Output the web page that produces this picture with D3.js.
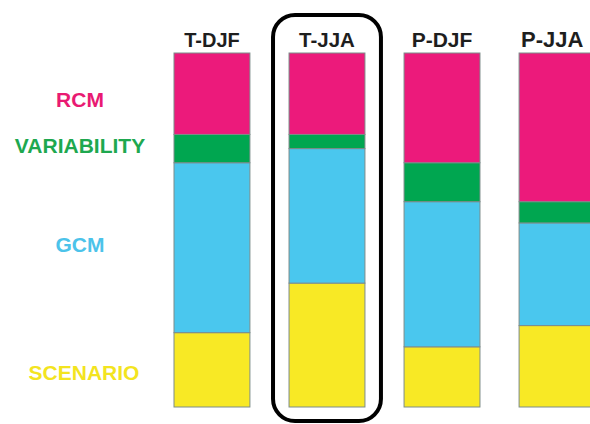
<!DOCTYPE html>
<html>
<head>
<meta charset="utf-8">
<script src="https://cdn.jsdelivr.net/npm/d3@7"></script>
<style>
  html, body { margin: 0; padding: 0; background: #fff; overflow: hidden; }
  svg { display: block; }
  text { font-family: Arial, "Liberation Sans", sans-serif; font-weight: bold; }
</style>
</head>
<body>
<svg id="chart" width="590" height="424"></svg>
<script>
// Categories (bars) and components (stack order, bottom -> top)
const categories = ["T-DJF", "T-JJA", "P-DJF", "P-JJA"];
const components = ["SCENARIO", "GCM", "VARIABILITY", "RCM"];

// Fraction of uncertainty (%) per component for each bar
const scenario    = [21, 35, 17, 23];
const gcm         = [48, 38, 41, 29];
const variability = [8, 4, 11, 6];
const rcm         = [23, 23, 31, 42];

const highlighted = "T-JJA";

const colors = {
  RCM: "#EC1A7B",
  VARIABILITY: "#00A650",
  GCM: "#4AC7EE",
  SCENARIO: "#F8E925"
};
const labelColors = {
  RCM: "#E91A72",
  VARIABILITY: "#1EA84F",
  GCM: "#4CC3EA",
  SCENARIO: "#F3E41F"
};

const rows = categories.map((c, i) => ({
  cat: c,
  SCENARIO: scenario[i],
  GCM: gcm[i],
  VARIABILITY: variability[i],
  RCM: rcm[i]
}));

const svg = d3.select("#chart");

const x = d3.scaleBand()
  .domain(categories)
  .range([174, 595])
  .paddingInner(0.34)
  .paddingOuter(0)
  .align(0);

const y = d3.scaleLinear().domain([0, 100]).range([407, 53]);

const stack = d3.stack().keys(components);
const series = stack(rows);

// highlight box around T-JJA
const bx = x(highlighted);
svg.append("rect")
  .attr("x", bx - 16)
  .attr("y", 15)
  .attr("width", x.bandwidth() + 32)
  .attr("height", 406)
  .attr("rx", 22)
  .attr("ry", 22)
  .attr("fill", "none")
  .attr("stroke", "#000")
  .attr("stroke-width", 4);

// bars
const g = svg.append("g");
series.forEach(s => {
  g.selectAll(null)
    .data(s)
    .enter()
    .append("rect")
    .attr("x", d => x(d.data.cat))
    .attr("y", d => y(d[1]))
    .attr("width", x.bandwidth())
    .attr("height", d => y(d[0]) - y(d[1]))
    .attr("fill", colors[s.key])
    .attr("stroke", "#7d8c8a")
    .attr("stroke-width", 1);
});

// titles
const titleSizes = { "T-DJF": 20, "T-JJA": 20.5, "P-DJF": 21, "P-JJA": 22 };
svg.selectAll(".title")
  .data(categories)
  .enter()
  .append("text")
  .attr("x", d => d === "P-JJA" ? x(d) + 2 : x(d) + x.bandwidth() / 2)
  .attr("y", 47)
  .attr("text-anchor", d => d === "P-JJA" ? "start" : "middle")
  .attr("font-size", d => titleSizes[d])
  .attr("fill", "#1e1e1e")
  .text(d => d);

// component labels
const labelPos = { RCM: 107, VARIABILITY: 153, GCM: 252, SCENARIO: 380 };
svg.selectAll(".lab")
  .data(components)
  .enter()
  .append("text")
  .attr("x", d => d === "SCENARIO" ? 84 : 80)
  .attr("y", d => labelPos[d])
  .attr("text-anchor", "middle")
  .attr("font-size", 21)
  .attr("fill", d => labelColors[d])
  .text(d => d);
</script>
</body>
</html>
